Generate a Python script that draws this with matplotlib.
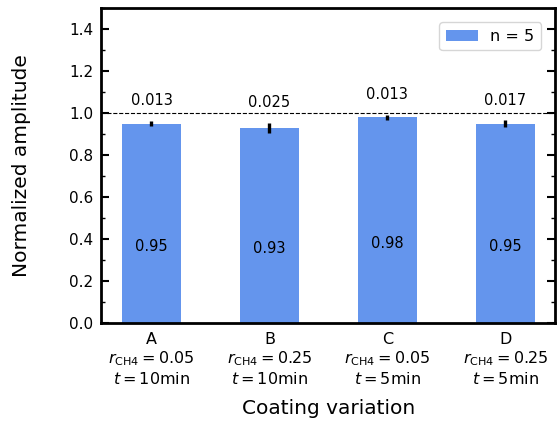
import numpy as np
import matplotlib.pyplot as plt
from matplotlib.ticker import MultipleLocator

# data
variations = ['A', 'B', 'C', 'D']
r_ch4 = ['0.05', '0.25', '0.05', '0.25']
t_min = ['10', '10', '5', '5']
amplitude = [0.95, 0.93, 0.98, 0.95]
std_err = [0.013, 0.025, 0.013, 0.017]

labels = ['%s\n$r_{\\mathrm{CH4}} = %s$\n$t = %s$min' % (v, r, t)
          for v, r, t in zip(variations, r_ch4, t_min)]
x = np.arange(len(variations))

fig = plt.figure(figsize=(5.57, 4.23), dpi=100)
ax = fig.add_axes([0.182, 0.236, 0.815, 0.745])

ax.bar(x, amplitude, width=0.5, color='cornflowerblue', label='n = 5',
       yerr=std_err, error_kw=dict(ecolor='black', elinewidth=2.4, capsize=0))
ax.axhline(1.0, color='black', linestyle='--', linewidth=0.8)

# value inside each bar, spread above it
for xi, h, e in zip(x, amplitude, std_err):
    ax.text(xi, h / 2 - 0.11, '%.2f' % h, ha='center', va='center', fontsize=10.5)
    ax.text(xi, h + e + 0.095, '%.3f' % e, ha='center', va='center', fontsize=10.5)

ax.set_ylim(0, 1.5)
ax.set_xticks(x)
ax.set_xticklabels(labels, fontsize=11.5)
ax.yaxis.set_major_locator(MultipleLocator(0.2))
ax.yaxis.set_minor_locator(MultipleLocator(0.1))
ax.tick_params(axis='y', which='both', direction='in', right=True, labelsize=11, pad=6)
ax.tick_params(axis='y', which='major', length=6, width=1.5)
ax.tick_params(axis='y', which='minor', length=3, width=1)
ax.tick_params(axis='x', length=0, pad=6)
for s in ax.spines.values():
    s.set_linewidth(2)

ax.set_ylabel('Normalized amplitude', fontsize=14.5, labelpad=27)
ax.set_xlabel('Coating variation', fontsize=14.5, labelpad=9)
ax.legend(loc='upper right', fontsize=11.5, borderaxespad=0.9)

fig.savefig('out.png', dpi=100)
